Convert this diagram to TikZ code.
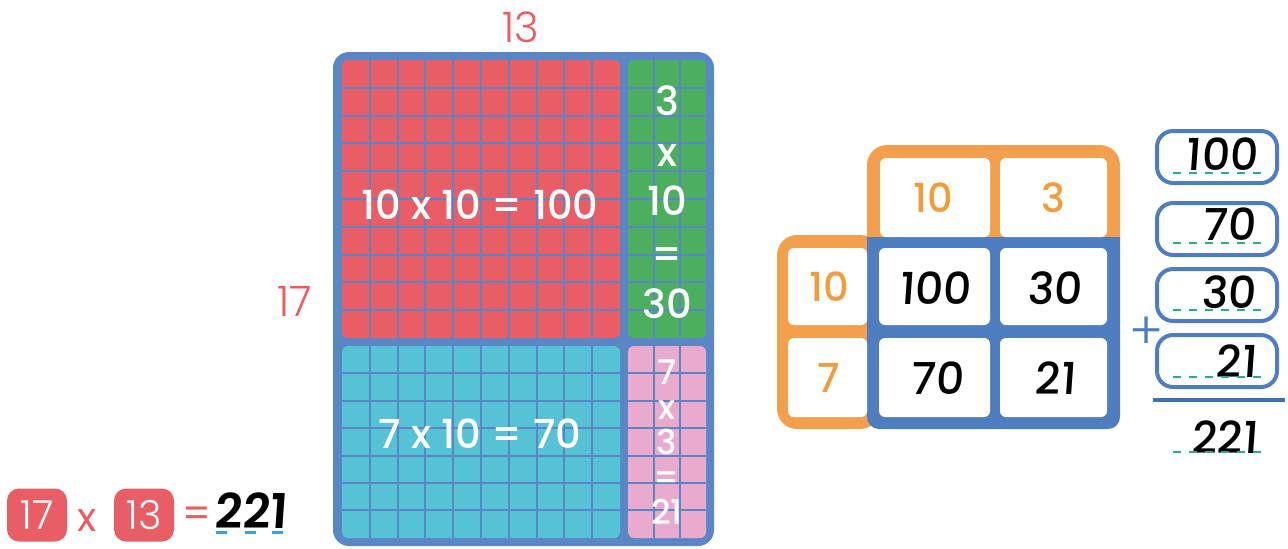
\documentclass[tikz,border=0pt]{standalone}
\usepackage{fontspec}
\setmainfont{Poppins}
\newfontfamily\medfont{Poppins Medium}
\newfontfamily\handfont[FakeSlant=0.07]{Poppins Medium}
\newfontfamily\boldhand[FakeSlant=0.07]{Poppins SemiBold}
\newfontfamily\thinfont{Poppins Light}
\usetikzlibrary{positioning}
\definecolor{gridblue}{HTML}{5A86C6}
\definecolor{cellred}{HTML}{E95E66}
\definecolor{cellgreen}{HTML}{4CAF60}
\definecolor{cellcyan}{HTML}{56C2D6}
\definecolor{cellpink}{HTML}{E9AACD}
\definecolor{tabblue}{HTML}{4F7EC0}
\definecolor{taborange}{HTML}{F2A04E}
\definecolor{numorange}{HTML}{F39C3C}
\definecolor{labelred}{HTML}{EE5A5E}
\definecolor{dotgreen}{HTML}{25B08E}
\definecolor{dashblue}{HTML}{2FA7E2}
\definecolor{sumline}{HTML}{3E6EB3}
\begin{document}
\begin{tikzpicture}[
      x=0.5pt, y=-0.5pt,
      wlabel/.style   = {text=white, inner sep=0pt, font=\medfont\fontsize{20}{20}\selectfont},
      plabel/.style   = {wlabel, font=\medfont\fontsize{17}{17}\selectfont},
      olabel/.style   = {text=numorange, inner sep=0pt, font=\medfont\fontsize{20}{20}\selectfont},
      rlabel/.style   = {text=labelred, inner sep=0pt, font=\thinfont\fontsize{21}{21}\selectfont},
      hand/.style     = {inner sep=0pt, font=\handfont\fontsize{22}{22}\selectfont},
      cellline/.style = {gridblue, line width=1pt},
      cell/.style     = {fill=white, rounded corners=3pt},
      sumbox/.style   = {draw=tabblue, line width=2pt, rounded corners=8pt,
                         minimum width=60pt, minimum height=26pt, inner sep=0pt},
      redbox/.style   = {fill=cellred, rounded corners=6pt, text=white, inner sep=0pt,
                         minimum width=30pt, minimum height=26.5pt,
                         font=\thinfont\fontsize{20}{20}\selectfont},
      dots/.style     = {dotgreen, line width=1pt, dash pattern=on 4pt off 4pt}]
    \useasboundingbox (0,0) rectangle (1288,548);
    % area model: 17 rows by 13 columns
    \fill[gridblue, rounded corners=8pt] (333,52) rectangle (714,546);
    \fill[cellred, rounded corners=3pt]   (342,60)  rectangle (620,338);
    \fill[cellgreen, rounded corners=3pt] (628,60)  rectangle (706,338);
    \fill[cellcyan, rounded corners=3pt]  (342,346) rectangle (620,538);
    \fill[cellpink, rounded corners=3pt]  (628,346) rectangle (706,538);
    \foreach \i in {1,...,9}
      \draw[cellline] ({342+27.8*\i},60) -- ({342+27.8*\i},538);
    \foreach \i in {1,2}
      \draw[cellline] ({628+26*\i},60) -- ({628+26*\i},538);
    \foreach \j in {1,...,9}
      \draw[cellline] (342,{60+27.8*\j}) -- (706,{60+27.8*\j});
    \foreach \j in {1,...,6}
      \draw[cellline] (342,{346+27.4*\j}) -- (706,{346+27.4*\j});
    \node[rlabel] (top13)  at (521,27)  {13};
    \node[rlabel] (side17) at (295,301) {17};
    \node[wlabel] (big)    at (480,205) {10 x 10 = 100};
    \node[wlabel] (low)    at (480,434) {7 x 10 = 70};
    % green column
    \node[wlabel] (g1) at (667,101) {3};
    \node[wlabel] (g2) at (667,155) {x};
    \node[wlabel] (g3) at (667,201) {10};
    \node[wlabel] (g4) at (667,258) {=};
    \node[wlabel] (g5) at (667,304) {30};
    % pink column
    \node[plabel] (p1) at (667,372) {7};
    \node[plabel] (p2) at (667,410) {x};
    \node[plabel] (p3) at (667,442) {3};
    \node[plabel] (p4) at (667,481) {=};
    \node[plabel] (p5) at (667,512) {21};
    % equation bottom left
    \node[redbox] (n17) at (37,515)  {17};
    \node[rlabel, font=\fontsize{20}{20}\selectfont] (times) at (87,521) {x};
    \node[redbox] (n13) at (144,515) {13};
    \node[rlabel, font=\fontsize{20}{20}\selectfont] (eq) at (197,517) {=};
    \node[hand, font=\boldhand\fontsize{24}{24}\selectfont] (res) at (251,511) {221};
    \foreach \a in {216,245,272}
      \draw[dashblue, line width=1.5pt] (\a,532) -- ({\a+11},532);
    % grid table
    \fill[taborange, rounded corners=10pt] (867,145) rectangle (1120,260);
    \fill[taborange, rounded corners=10pt] (777,235) rectangle (880,429);
    \fill[tabblue] (867,237) -- (1120,237) {[rounded corners=6pt] -- (1120,429) -- (867,429)} -- cycle;
    \fill[cell] (880,158) rectangle (990,237);
    \fill[cell] (1000,158) rectangle (1107,237);
    \fill[cell] (788,248) rectangle (867,325);
    \fill[cell] (788,338) rectangle (867,417);
    \fill[cell] (879,248) rectangle (990,325);
    \fill[cell] (1000,248) rectangle (1107,325);
    \fill[cell] (879,338) rectangle (990,417);
    \fill[cell] (1000,338) rectangle (1107,417);
    \node[olabel] (h10) at (933,198) {10};
    \node[olabel] (h3)  at (1053,198) {3};
    \node[olabel] (v10) at (829,287) {10};
    \node[olabel] (v7)  at (829,378) {7};
    \node[hand] (c100) at (935,288) {100};
    \node[hand] (c30)  at (1055,288) {30};
    \node[hand] (c70)  at (937,378) {70};
    \node[hand] (c21)  at (1055,378) {21};
    % column addition
    \node[sumbox] (s1) at (1217,157) {};
    \node[sumbox] (s2) at (1217,229) {};
    \node[sumbox] (s3) at (1217,295) {};
    \node[sumbox] (s4) at (1217,361) {};
    \node[hand, anchor=base east] (a1) at (1258,170) {100};
    \node[hand, anchor=base east] (a2) at (1256,240) {70};
    \node[hand, anchor=base east] (a3) at (1256,308) {30};
    \node[hand, anchor=base east] (a4) at (1257,377) {21};
    \node[hand, anchor=base east] (tot) at (1258,453) {221};
    \foreach \y in {173,243,310,377,452}
      \draw[dots] (1173,\y) -- (1265,\y);
    \node[text=tabblue, inner sep=0pt, font=\thinfont\fontsize{26}{26}\selectfont] (plus) at (1147,333) {+};
    \draw[sumline, line width=2pt] (1153,400) -- (1285,400);
  \end{tikzpicture}
\end{document}
